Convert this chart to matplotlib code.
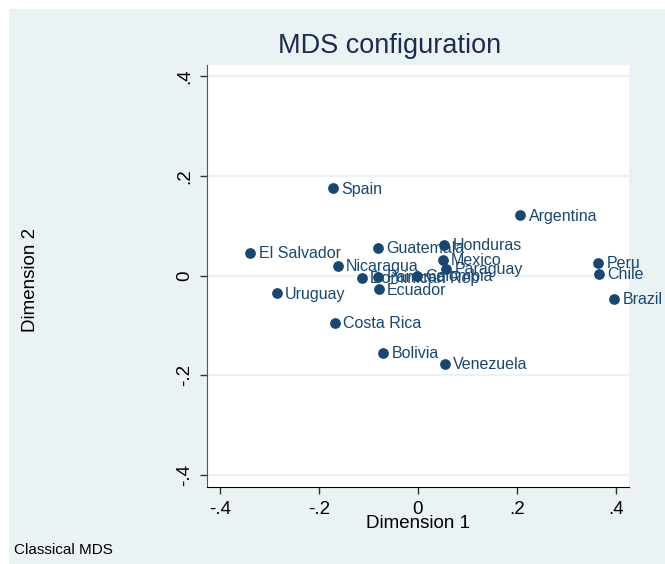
import matplotlib.pyplot as plt
from matplotlib.patches import Rectangle

plt.rcParams['font.family'] = ['Liberation Sans', 'DejaVu Sans']

countries = ['Spain', 'Argentina', 'El Salvador', 'Guatemala', 'Honduras', 'Mexico',
             'Paraguay', 'Nicaragua', 'Dominican Rep', 'Panama', 'Colombia', 'Ecuador',
             'Uruguay', 'Costa Rica', 'Bolivia', 'Venezuela', 'Peru', 'Chile', 'Brazil']
dim1 = [-0.172, 0.207, -0.339, -0.080, 0.053, 0.050,
        0.057, -0.162, -0.113, -0.080, -0.001, -0.079,
        -0.285, -0.168, -0.070, 0.054, 0.365, 0.366, 0.397]
dim2 = [0.175, 0.121, 0.046, 0.056, 0.062, 0.032,
        0.014, 0.019, -0.005, -0.003, 0.000, -0.028,
        -0.036, -0.096, -0.155, -0.177, 0.026, 0.004, -0.047]

navy = '#1a476f'
bg = '#eaf2f3'

fig = plt.figure(figsize=(6.65, 5.64), dpi=100, facecolor='white')
fig.patches.append(Rectangle((9 / 665, 0), 1, 1 - 9 / 564, transform=fig.transFigure,
                             facecolor=bg, edgecolor='none', zorder=-10))

ax = fig.add_axes([0.3108, 0.1365, 0.6351, 0.7482])
ax.set_facecolor('white')
ax.scatter(dim1, dim2, s=45, color=navy, zorder=3)
for name, x, y in zip(countries, dim1, dim2):
    ax.annotate(name, (x, y), xytext=(6, -0.5), textcoords='offset points',
                va='center', ha='left', fontsize=11.5, color=navy, clip_on=False)

ax.set_xlim(-0.427, 0.427)
ax.set_ylim(-0.425, 0.423)
ax.set_xticks([-0.4, -0.2, 0, 0.2, 0.4])
ax.set_xticklabels(['-.4', '-.2', '0', '.2', '.4'])
ax.set_yticks([-0.4, -0.2, 0, 0.2, 0.4])
ax.set_yticklabels(['-.4', '-.2', '0', '.2', '.4'], rotation=90, va='center')
ax.tick_params(labelsize=13.5, length=5, width=1, color='#333333', pad=5)
ax.yaxis.grid(True, color=bg, linewidth=1.5)
ax.set_axisbelow(True)
for s in ['top', 'right']:
    ax.spines[s].set_visible(False)
ax.spines['left'].set_color('#555555')
ax.spines['bottom'].set_color('#000000')

ax.set_xlabel('Dimension 1', fontsize=13.5, labelpad=-2)
ax.set_ylabel('Dimension 2', fontsize=13.5, va='center')
ax.yaxis.set_label_coords(-0.418, 0.49)
fig.text(0.586, 0.918, 'MDS configuration', fontsize=19.5, color='#1c2b50',
         ha='center', va='center')
fig.text(14 / 665, 1 - 550 / 564, 'Classical MDS', fontsize=11, ha='left', va='center')

fig.savefig('out.png', dpi=100, facecolor=fig.get_facecolor())
